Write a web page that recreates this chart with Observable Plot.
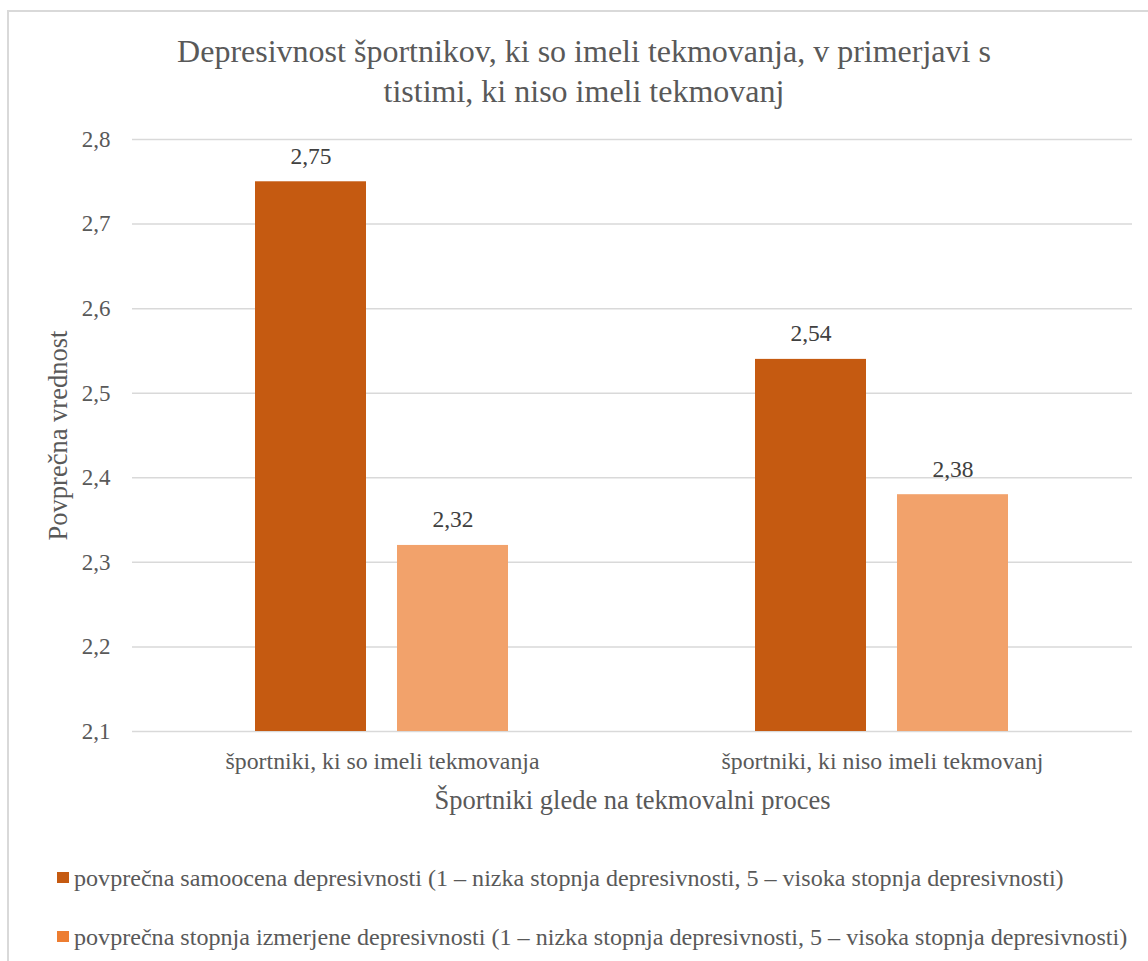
<!DOCTYPE html>
<html><head><meta charset="utf-8">
<script src="https://cdn.jsdelivr.net/npm/d3@7"></script>
<script src="https://cdn.jsdelivr.net/npm/@observablehq/plot@0.6"></script>
<style>
body{margin:0;background:#fff;}
#wrap{position:relative;width:1148px;height:961px;overflow:hidden;}
#frame{position:absolute;left:7px;top:10px;width:1200px;height:1000px;border:2px solid #d9d9d9;box-sizing:border-box;}
#title{position:absolute;left:134px;width:900px;top:31px;text-align:center;font-size:32px;line-height:40px;color:#595959;}
#chart{position:absolute;left:0;top:110px;}
#legend{position:absolute;left:57px;top:864px;font-size:24.1px;color:#595959;}
.row{position:relative;height:59px;white-space:nowrap;}
.sw{position:absolute;left:0;top:8px;width:12px;height:11px;}
.lt{position:absolute;left:17px;top:0;line-height:28px;}
</style>
</head><body>
<div id="wrap" style="font-family:'Liberation Serif',serif">
  <div id="frame"></div>
  <div id="title" style="font-family:'Liberation Serif',serif"></div>
  <div id="chart"></div>
  <div id="legend" style="font-family:'Liberation Serif',serif"></div>
</div>
<script>
const chartTitle = ["Depresivnost športnikov, ki so imeli tekmovanja, v primerjavi s", "tistimi, ki niso imeli tekmovanj"];
const groups = ["športniki, ki so imeli tekmovanja", "športniki, ki niso imeli tekmovanj"];
const series = [
  "povprečna samoocena depresivnosti (1 – nizka stopnja depresivnosti, 5 – visoka stopnja depresivnosti)",
  "povprečna stopnja izmerjene depresivnosti (1 – nizka stopnja depresivnosti, 5 – visoka stopnja depresivnosti)"
];
const samoocena = [2.75, 2.54];
const izmerjena = [2.32, 2.38];
const yTicks = [2.1, 2.2, 2.3, 2.4, 2.5, 2.6, 2.7, 2.8];
const xTitle = "Športniki glede na tekmovalni proces";
const yTitle = "Povprečna vrednost";
const barColors = ["#C55A11", "#F2A26B"];
const legendColors = ["#C55A11", "#ED7D31"];

const FONT = "Liberation Serif, serif";
const data = [];
groups.forEach((g, i) => {
  data.push({group: g, series: series[0], value: samoocena[i]});
  data.push({group: g, series: series[1], value: izmerjena[i]});
});
const yMin = d3.min(yTicks), yMax = d3.max(yTicks);
const comma = (v, n) => v.toFixed(n).replace(".", ",");

const titleEl = document.getElementById("title");
chartTitle.forEach(line => {
  const d = document.createElement("div");
  d.textContent = line;
  titleEl.appendChild(d);
});

const plot = Plot.plot({
  width: 1148,
  height: 720,
  marginLeft: 132,
  marginRight: 16,
  marginTop: 29,
  marginBottom: 99,
  style: "font-family: 'Liberation Serif', serif; background: transparent; color: #595959;",
  fx: {domain: groups, padding: 0},
  x: {domain: series, paddingInner: 0.218, paddingOuter: 0.866, axis: null},
  y: {domain: [yMin, yMax]},
  color: {domain: series, range: barColors},
  marks: [
    Plot.gridY(yTicks, {stroke: "#d9d9d9", strokeOpacity: 1, strokeWidth: 1.5}),
    Plot.barY(data, {fx: "group", x: "series", y1: () => yMin, y2: "value", fill: "series"}),
    Plot.text(data, {fx: "group", x: "series", y: "value", text: d => comma(d.value, 2), dy: -18, lineAnchor: "bottom", fill: "#404040", fontSize: 23.5, fontFamily: FONT}),
    Plot.axisY(yTicks, {tickSize: 0, tickPadding: 22, tickFormat: d => comma(d, 1), fontSize: 23, fill: "#595959", label: null, fontFamily: FONT}),
    Plot.axisFx({anchor: "bottom", tickSize: 0, tickPadding: 21, fontSize: 23.8, fill: "#595959", label: null, fontFamily: FONT}),
    Plot.text([xTitle], {facet: "super", frameAnchor: "bottom", text: d => d, dy: 69.5, lineAnchor: "middle", textAnchor: "middle", fontSize: 26.5, fill: "#595959", fontFamily: FONT}),
    Plot.text([yTitle], {facet: "super", frameAnchor: "left", text: d => d, rotate: -90, dx: -73.5, lineAnchor: "middle", textAnchor: "middle", fontSize: 26.5, fill: "#595959", fontFamily: FONT})
  ]
});
document.getElementById("chart").appendChild(plot);

const legend = document.getElementById("legend");
series.forEach((s, i) => {
  const row = document.createElement("div");
  row.className = "row";
  const sw = document.createElement("span");
  sw.className = "sw";
  sw.style.background = legendColors[i];
  const t = document.createElement("span");
  t.className = "lt";
  t.textContent = s;
  row.appendChild(sw); row.appendChild(t);
  legend.appendChild(row);
});
</script>
</body></html>
